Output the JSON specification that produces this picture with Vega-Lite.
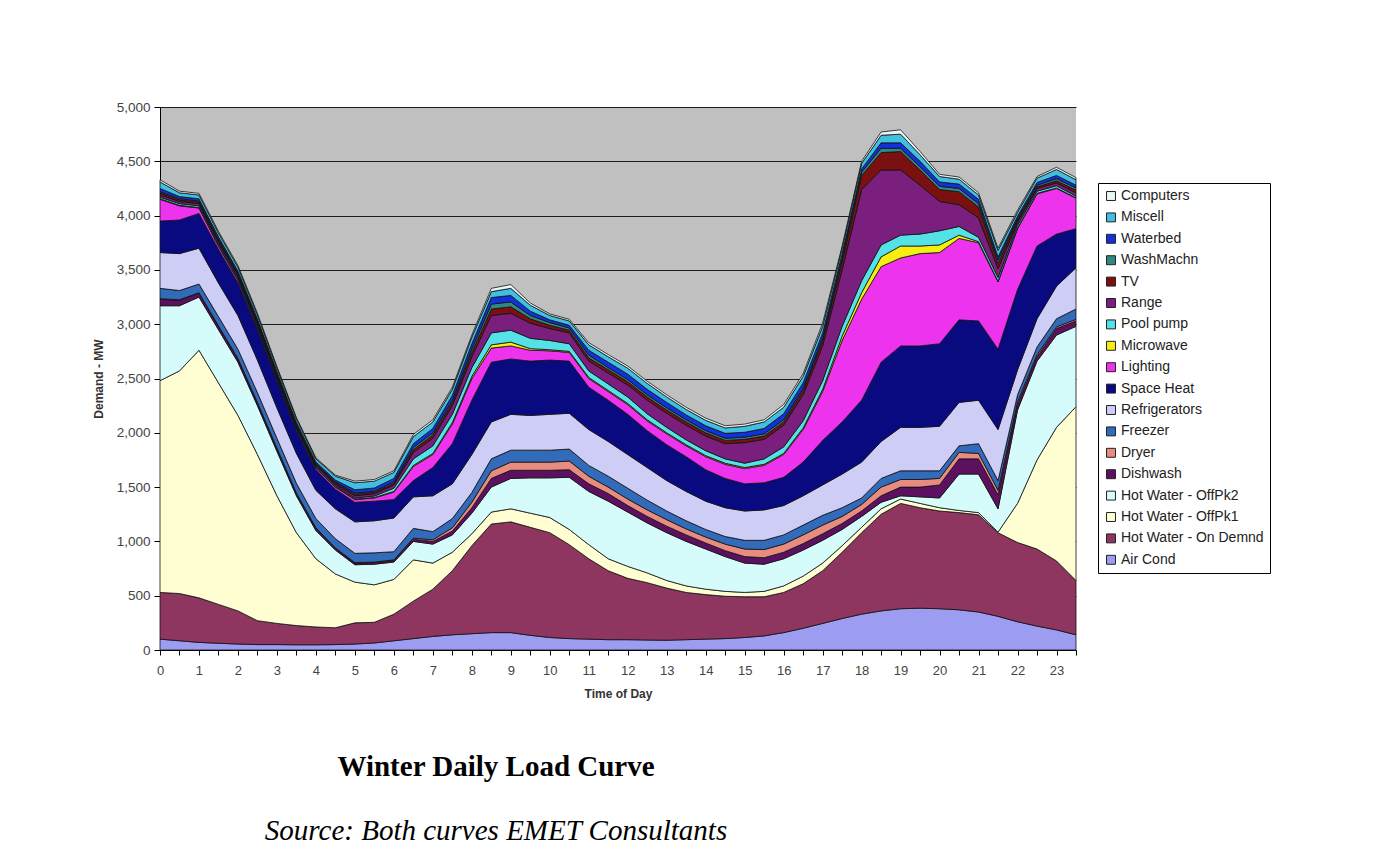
{
  "$schema": "https://vega.github.io/schema/vega-lite/v6.json",
  "width": 916,
  "height": 543,
  "autosize": {"type": "none"},
  "padding": {"left": 160, "top": 107, "right": 304, "bottom": 208},
  "background": "#ffffff",
  "title": {
    "text": "Winter Daily Load Curve",
    "subtitle": "Source: Both curves EMET Consultants",
    "orient": "bottom",
    "anchor": "middle",
    "frame": "group",
    "dx": -122,
    "offset": 54,
    "font": "Liberation Serif",
    "fontSize": 29,
    "fontWeight": "bold",
    "color": "#000000",
    "subtitleFont": "Liberation Serif",
    "subtitleFontSize": 29,
    "subtitleFontStyle": "italic",
    "subtitleColor": "#000000",
    "subtitlePadding": 35
  },
  "datasets": {
    "loads": [
      {"h":0,"AC":100,"OD":430,"P1":1950,"P2":690,"DW":60,"DR":5,"FZ":95,"RF":330,"SH":290,"LT":200,"MW":5,"PP":15,"RG":20,"TV":20,"WM":10,"WB":30,"MS":60,"CP":20},
      {"h":0.5,"AC":85,"OD":435,"P1":2050,"P2":600,"DW":50,"DR":5,"FZ":85,"RF":340,"SH":310,"LT":130,"MW":5,"PP":15,"RG":20,"TV":15,"WM":10,"WB":20,"MS":35,"CP":15},
      {"h":1,"AC":70,"OD":410,"P1":2280,"P2":490,"DW":35,"DR":5,"FZ":80,"RF":330,"SH":320,"LT":50,"MW":5,"PP":15,"RG":20,"TV":15,"WM":10,"WB":20,"MS":35,"CP":15},
      {"h":1.5,"AC":62,"OD":358,"P1":2040,"P2":490,"DW":30,"DR":5,"FZ":85,"RF":310,"SH":310,"LT":30,"MW":5,"PP":15,"RG":20,"TV":15,"WM":10,"WB":20,"MS":35,"CP":15},
      {"h":2,"AC":55,"OD":305,"P1":1800,"P2":490,"DW":30,"DR":5,"FZ":85,"RF":310,"SH":300,"LT":25,"MW":5,"PP":15,"RG":20,"TV":15,"WM":10,"WB":20,"MS":35,"CP":15},
      {"h":2.5,"AC":50,"OD":220,"P1":1530,"P2":450,"DW":25,"DR":5,"FZ":90,"RF":300,"SH":280,"LT":20,"MW":5,"PP":15,"RG":15,"TV":15,"WM":10,"WB":20,"MS":35,"CP":15},
      {"h":3,"AC":50,"OD":195,"P1":1175,"P2":410,"DW":25,"DR":5,"FZ":90,"RF":280,"SH":250,"LT":15,"MW":5,"PP":12,"RG":13,"TV":13,"WM":10,"WB":17,"MS":33,"CP":12},
      {"h":3.5,"AC":48,"OD":177,"P1":855,"P2":340,"DW":20,"DR":5,"FZ":90,"RF":275,"SH":210,"LT":15,"MW":5,"PP":10,"RG":12,"TV":12,"WM":8,"WB":16,"MS":32,"CP":10},
      {"h":4,"AC":48,"OD":164,"P1":628,"P2":260,"DW":20,"DR":5,"FZ":85,"RF":260,"SH":190,"LT":15,"MW":5,"PP":10,"RG":10,"TV":10,"WM":8,"WB":14,"MS":28,"CP":10},
      {"h":4.5,"AC":50,"OD":155,"P1":495,"P2":220,"DW":15,"DR":5,"FZ":85,"RF":275,"SH":180,"LT":20,"MW":5,"PP":10,"RG":13,"TV":12,"WM":8,"WB":17,"MS":35,"CP":10},
      {"h":5,"AC":55,"OD":195,"P1":375,"P2":160,"DW":15,"DR":5,"FZ":85,"RF":290,"SH":180,"LT":25,"MW":5,"PP":10,"RG":20,"TV":15,"WM":10,"WB":30,"MS":65,"CP":15},
      {"h":5.5,"AC":65,"OD":190,"P1":345,"P2":190,"DW":15,"DR":5,"FZ":85,"RF":295,"SH":180,"LT":30,"MW":5,"PP":13,"RG":20,"TV":14,"WM":10,"WB":30,"MS":63,"CP":15},
      {"h":6,"AC":85,"OD":245,"P1":320,"P2":160,"DW":15,"DR":5,"FZ":75,"RF":310,"SH":170,"LT":70,"MW":5,"PP":30,"RG":30,"TV":15,"WM":13,"WB":32,"MS":55,"CP":15},
      {"h":6.5,"AC":105,"OD":345,"P1":380,"P2":170,"DW":20,"DR":10,"FZ":90,"RF":290,"SH":150,"LT":130,"MW":10,"PP":60,"RG":60,"TV":25,"WM":20,"WB":35,"MS":65,"CP":20},
      {"h":7,"AC":125,"OD":435,"P1":240,"P2":175,"DW":25,"DR":15,"FZ":75,"RF":330,"SH":260,"LT":120,"MW":10,"PP":70,"RG":70,"TV":30,"WM":20,"WB":40,"MS":60,"CP":20},
      {"h":7.5,"AC":140,"OD":590,"P1":170,"P2":160,"DW":35,"DR":30,"FZ":85,"RF":320,"SH":370,"LT":180,"MW":15,"PP":75,"RG":80,"TV":30,"WM":20,"WB":45,"MS":55,"CP":20},
      {"h":8,"AC":150,"OD":810,"P1":110,"P2":190,"DW":50,"DR":50,"FZ":90,"RF":350,"SH":500,"LT":200,"MW":20,"PP":80,"RG":100,"TV":40,"WM":30,"WB":50,"MS":60,"CP":20},
      {"h":8.5,"AC":160,"OD":1000,"P1":110,"P2":230,"DW":80,"DR":70,"FZ":110,"RF":340,"SH":550,"LT":130,"MW":30,"PP":110,"RG":160,"TV":60,"WM":45,"WB":60,"MS":55,"CP":30},
      {"h":9,"AC":160,"OD":1020,"P1":120,"P2":280,"DW":75,"DR":75,"FZ":110,"RF":330,"SH":510,"LT":120,"MW":35,"PP":110,"RG":155,"TV":60,"WM":45,"WB":60,"MS":65,"CP":35},
      {"h":9.5,"AC":135,"OD":995,"P1":130,"P2":325,"DW":70,"DR":75,"FZ":110,"RF":320,"SH":500,"LT":100,"MW":15,"PP":95,"RG":140,"TV":40,"WM":30,"WB":40,"MS":55,"CP":20},
      {"h":10,"AC":115,"OD":965,"P1":140,"P2":365,"DW":70,"DR":75,"FZ":110,"RF":330,"SH":500,"LT":85,"MW":10,"PP":85,"RG":110,"TV":30,"WM":25,"WB":25,"MS":40,"CP":15},
      {"h":10.5,"AC":105,"OD":865,"P1":140,"P2":480,"DW":70,"DR":80,"FZ":110,"RF":330,"SH":480,"LT":80,"MW":10,"PP":70,"RG":100,"TV":25,"WM":20,"WB":25,"MS":40,"CP":15},
      {"h":11,"AC":100,"OD":740,"P1":130,"P2":490,"DW":70,"DR":70,"FZ":100,"RF":330,"SH":390,"LT":80,"MW":10,"PP":60,"RG":90,"TV":30,"WM":25,"WB":45,"MS":50,"CP":20},
      {"h":11.5,"AC":95,"OD":635,"P1":110,"P2":530,"DW":70,"DR":60,"FZ":100,"RF":320,"SH":380,"LT":80,"MW":10,"PP":60,"RG":100,"TV":30,"WM":20,"WB":50,"MS":50,"CP":20},
      {"h":12,"AC":95,"OD":565,"P1":110,"P2":500,"DW":60,"DR":60,"FZ":100,"RF":310,"SH":370,"LT":90,"MW":10,"PP":60,"RG":110,"TV":30,"WM":20,"WB":50,"MS":55,"CP":20},
      {"h":12.5,"AC":92,"OD":528,"P1":90,"P2":460,"DW":60,"DR":60,"FZ":90,"RF":300,"SH":340,"LT":90,"MW":10,"PP":55,"RG":125,"TV":30,"WM":20,"WB":50,"MS":55,"CP":20},
      {"h":13,"AC":90,"OD":480,"P1":70,"P2":440,"DW":60,"DR":60,"FZ":80,"RF":280,"SH":330,"LT":100,"MW":10,"PP":50,"RG":130,"TV":30,"WM":20,"WB":50,"MS":50,"CP":20},
      {"h":13.5,"AC":95,"OD":435,"P1":60,"P2":410,"DW":60,"DR":55,"FZ":75,"RF":270,"SH":320,"LT":100,"MW":10,"PP":45,"RG":135,"TV":30,"WM":20,"WB":45,"MS":50,"CP":20},
      {"h":14,"AC":100,"OD":410,"P1":50,"P2":370,"DW":55,"DR":55,"FZ":70,"RF":260,"SH":290,"LT":120,"MW":10,"PP":45,"RG":135,"TV":30,"WM":20,"WB":45,"MS":50,"CP":20},
      {"h":14.5,"AC":105,"OD":390,"P1":45,"P2":320,"DW":55,"DR":60,"FZ":70,"RF":265,"SH":270,"LT":130,"MW":10,"PP":40,"RG":140,"TV":30,"WM":20,"WB":45,"MS":50,"CP":20},
      {"h":15,"AC":115,"OD":375,"P1":40,"P2":270,"DW":60,"DR":70,"FZ":80,"RF":270,"SH":250,"LT":140,"MW":10,"PP":40,"RG":190,"TV":30,"WM":20,"WB":45,"MS":55,"CP":20},
      {"h":15.5,"AC":130,"OD":360,"P1":50,"P2":250,"DW":60,"DR":75,"FZ":85,"RF":280,"SH":250,"LT":160,"MW":10,"PP":50,"RG":180,"TV":30,"WM":20,"WB":50,"MS":60,"CP":20},
      {"h":16,"AC":160,"OD":370,"P1":60,"P2":250,"DW":60,"DR":75,"FZ":85,"RF":270,"SH":260,"LT":210,"MW":10,"PP":60,"RG":200,"TV":30,"WM":20,"WB":55,"MS":60,"CP":25},
      {"h":16.5,"AC":200,"OD":410,"P1":70,"P2":240,"DW":60,"DR":80,"FZ":90,"RF":270,"SH":310,"LT":300,"MW":15,"PP":65,"RG":240,"TV":40,"WM":20,"WB":50,"MS":60,"CP":25},
      {"h":17,"AC":245,"OD":485,"P1":70,"P2":210,"DW":60,"DR":80,"FZ":90,"RF":280,"SH":410,"LT":450,"MW":20,"PP":80,"RG":320,"TV":50,"WM":20,"WB":50,"MS":60,"CP":30},
      {"h":17.5,"AC":290,"OD":610,"P1":60,"P2":150,"DW":55,"DR":65,"FZ":80,"RF":310,"SH":480,"LT":750,"MW":40,"PP":90,"RG":520,"TV":80,"WM":30,"WB":40,"MS":50,"CP":20},
      {"h":18,"AC":330,"OD":750,"P1":50,"P2":100,"DW":50,"DR":60,"FZ":60,"RF":330,"SH":570,"LT":930,"MW":60,"PP":110,"RG":840,"TV":130,"WM":30,"WB":30,"MS":50,"CP":20},
      {"h":18.5,"AC":360,"OD":890,"P1":50,"P2":60,"DW":60,"DR":80,"FZ":80,"RF":340,"SH":730,"LT":880,"MW":90,"PP":110,"RG":690,"TV":160,"WM":40,"WB":50,"MS":70,"CP":30},
      {"h":19,"AC":380,"OD":970,"P1":40,"P2":30,"DW":80,"DR":70,"FZ":80,"RF":400,"SH":750,"LT":810,"MW":110,"PP":100,"RG":600,"TV":170,"WM":30,"WB":50,"MS":80,"CP":40},
      {"h":19.5,"AC":385,"OD":925,"P1":40,"P2":60,"DW":90,"DR":70,"FZ":80,"RF":400,"SH":750,"LT":850,"MW":70,"PP":110,"RG":450,"TV":140,"WM":30,"WB":50,"MS":60,"CP":30},
      {"h":20,"AC":380,"OD":900,"P1":30,"P2":90,"DW":120,"DR":60,"FZ":70,"RF":410,"SH":760,"LT":840,"MW":70,"PP":130,"RG":270,"TV":110,"WM":30,"WB":40,"MS":50,"CP":20},
      {"h":20.5,"AC":370,"OD":895,"P1":20,"P2":335,"DW":140,"DR":60,"FZ":60,"RF":400,"SH":760,"LT":750,"MW":30,"PP":80,"RG":200,"TV":120,"WM":30,"WB":40,"MS":45,"CP":20},
      {"h":21,"AC":350,"OD":895,"P1":20,"P2":355,"DW":140,"DR":50,"FZ":90,"RF":400,"SH":730,"LT":720,"MW":10,"PP":40,"RG":180,"TV":100,"WM":30,"WB":40,"MS":40,"CP":20},
      {"h":21.5,"AC":310,"OD":770,"P1":5,"P2":215,"DW":130,"DR":40,"FZ":90,"RF":470,"SH":740,"LT":620,"MW":5,"PP":35,"RG":80,"TV":50,"WM":30,"WB":30,"MS":60,"CP":20},
      {"h":22,"AC":260,"OD":730,"P1":360,"P2":860,"DW":50,"DR":25,"FZ":65,"RF":230,"SH":740,"LT":560,"MW":5,"PP":25,"RG":30,"TV":20,"WM":15,"WB":20,"MS":35,"CP":20},
      {"h":22.5,"AC":220,"OD":710,"P1":820,"P2":910,"DW":40,"DR":20,"FZ":70,"RF":260,"SH":670,"LT":480,"MW":5,"PP":20,"RG":25,"TV":15,"WM":15,"WB":25,"MS":40,"CP":15},
      {"h":23,"AC":185,"OD":635,"P1":1230,"P2":850,"DW":60,"DR":15,"FZ":75,"RF":300,"SH":480,"LT":420,"MW":5,"PP":20,"RG":25,"TV":20,"WM":20,"WB":30,"MS":55,"CP":20},
      {"h":23.5,"AC":140,"OD":500,"P1":1600,"P2":740,"DW":50,"DR":15,"FZ":95,"RF":380,"SH":360,"LT":280,"MW":5,"PP":15,"RG":30,"TV":25,"WM":20,"WB":25,"MS":50,"CP":20}
    ],
    "series": [
      {"key":"AC","name":"Air Cond","idx":1},
      {"key":"OD","name":"Hot Water - On Demnd","idx":2},
      {"key":"P1","name":"Hot Water - OffPk1","idx":3},
      {"key":"P2","name":"Hot Water - OffPk2","idx":4},
      {"key":"DW","name":"Dishwash","idx":5},
      {"key":"DR","name":"Dryer","idx":6},
      {"key":"FZ","name":"Freezer","idx":7},
      {"key":"RF","name":"Refrigerators","idx":8},
      {"key":"SH","name":"Space Heat","idx":9},
      {"key":"LT","name":"Lighting","idx":10},
      {"key":"MW","name":"Microwave","idx":11},
      {"key":"PP","name":"Pool pump","idx":12},
      {"key":"RG","name":"Range","idx":13},
      {"key":"TV","name":"TV","idx":14},
      {"key":"WM","name":"WashMachn","idx":15},
      {"key":"WB","name":"Waterbed","idx":16},
      {"key":"MS","name":"Miscell","idx":17},
      {"key":"CP","name":"Computers","idx":18}
    ]
  },
  "data": {"name": "loads"},
  "transform": [
    {"fold": ["AC","OD","P1","P2","DW","DR","FZ","RF","SH","LT","MW","PP","RG","TV","WM","WB","MS","CP"], "as": ["key","mw"]},
    {"lookup": "key", "from": {"data": {"name": "series"}, "key": "key", "fields": ["name","idx"]}}
  ],
  "mark": {"type": "area", "interpolate": "linear", "stroke": "#111111", "strokeWidth": 0.8, "opacity": 1},
  "encoding": {
    "x": {
      "field": "h", "type": "quantitative",
      "scale": {"domain": [0, 23.5], "nice": false, "zero": false},
      "axis": {
        "title": "Time of Day",
        "values": [0,0.5,1,1.5,2,2.5,3,3.5,4,4.5,5,5.5,6,6.5,7,7.5,8,8.5,9,9.5,10,10.5,11,11.5,12,12.5,13,13.5,14,14.5,15,15.5,16,16.5,17,17.5,18,18.5,19,19.5,20,20.5,21,21.5,22,22.5,23,23.5],
        "labelExpr": "datum.value % 1 === 0 ? format(datum.value, 'd') : ''",
        "labelOverlap": false,
        "labelFlush": false,
        "grid": false,
        "tickSize": 5,
        "labelPadding": 9,
        "titlePadding": 11
      }
    },
    "y": {
      "field": "mw", "type": "quantitative", "stack": "zero",
      "scale": {"domain": [0, 5000], "nice": false},
      "axis": {
        "title": "Demand - MW",
        "values": [0,500,1000,1500,2000,2500,3000,3500,4000,4500,5000],
        "format": ",d",
        "grid": true,
        "tickSize": 6,
        "labelPadding": 4,
        "labelFontSize": 13.5,
        "titlePadding": 11
      }
    },
    "color": {
      "field": "name", "type": "nominal",
      "scale": {
        "domain": ["Computers","Miscell","Waterbed","WashMachn","TV","Range","Pool pump","Microwave","Lighting","Space Heat","Refrigerators","Freezer","Dryer","Dishwash","Hot Water - OffPk2","Hot Water - OffPk1","Hot Water - On Demnd","Air Cond"],
        "range": ["#EAF6F6","#40BFE0","#1330DD","#2E8A80","#7A1010","#7B1F7F","#55E2E6","#F5EE10","#EE33EE","#0A0A80","#CDCDF5","#336BBB","#E88C80","#5E1060","#D6FBFB","#FFFDD2","#8E3560","#9C9CF0"]
      },
      "legend": {
        "title": null,
        "orient": "none",
        "legendX": 938,
        "legendY": 76,
        "direction": "vertical",
        "strokeColor": "#000000",
        "fillColor": "#ffffff",
        "padding": 6,
        "rowPadding": 7.4,
        "symbolType": "square",
        "symbolSize": 80,
        "symbolStrokeColor": "#222222",
        "symbolStrokeWidth": 1,
        "symbolOpacity": 1,
        "labelFont": "Liberation Sans",
        "labelFontSize": 14,
        "labelColor": "#222222",
        "labelLimit": 220,
        "labelOffset": 3
      }
    },
    "order": {"field": "idx", "type": "quantitative", "sort": "ascending"}
  },
  "config": {
    "view": {"fill": "#C0C0C0", "stroke": null},
    "axis": {
      "labelFont": "Liberation Sans",
      "labelFontSize": 13,
      "labelColor": "#444444",
      "titleFont": "Liberation Sans",
      "titleFontSize": 12,
      "titleFontWeight": "bold",
      "titleColor": "#333333",
      "domainColor": "#000000",
      "domainWidth": 1,
      "tickColor": "#000000",
      "gridColor": "#000000",
      "gridWidth": 1,
      "gridOpacity": 0.85
    }
  }
}
